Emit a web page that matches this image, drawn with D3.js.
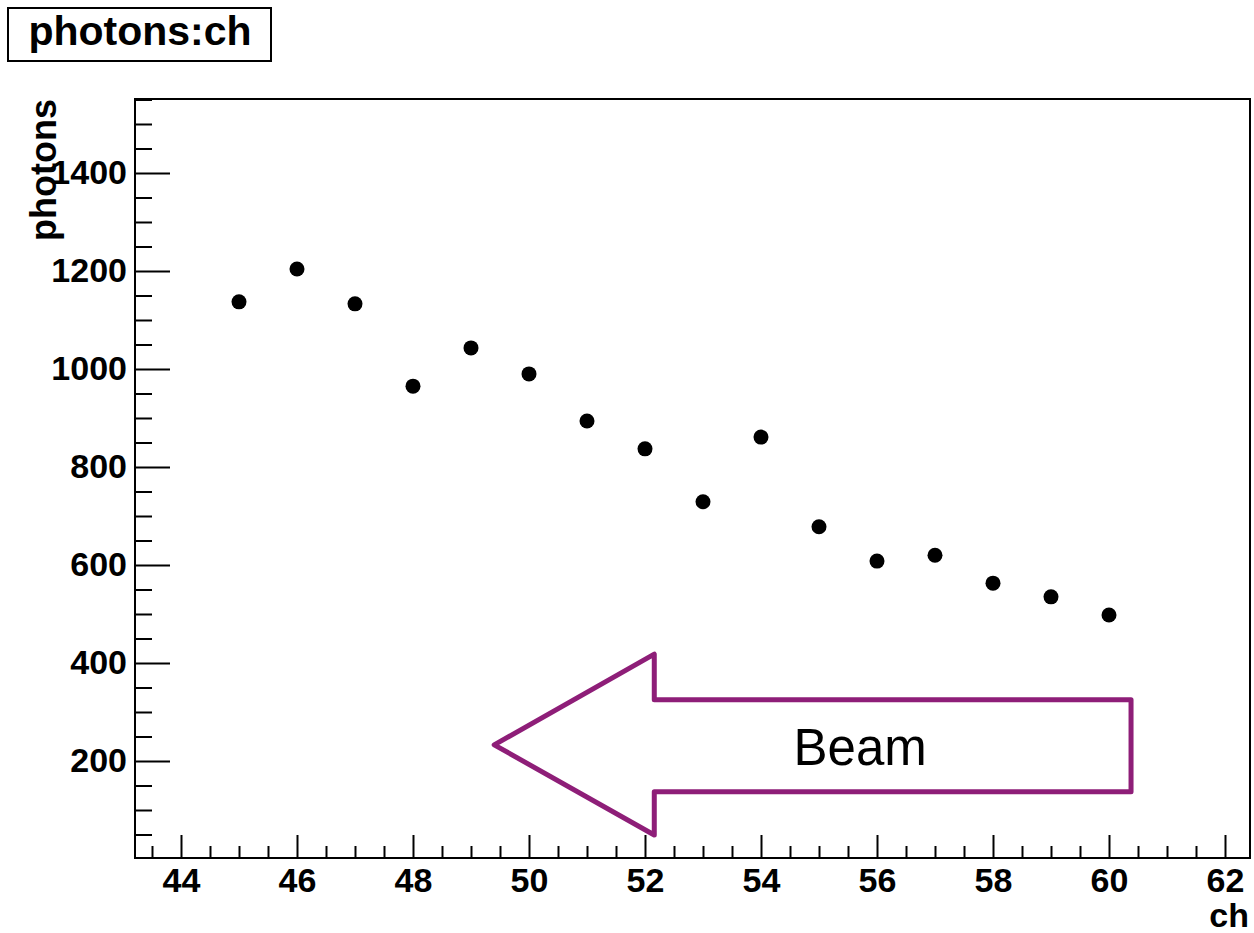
<!DOCTYPE html>
<html>
<head>
  <meta charset="utf-8" />
  <style>
    body { margin: 0; background: #fff; }
    text { font-family: "Liberation Sans", Arial, sans-serif; }
    .axis text { font-weight: bold; font-size: 34px; fill: #000; }
    .axis line { stroke: #000; stroke-width: 2px; }
    .axis path { display: none; }
  </style>
</head>
<body>
  <svg id="container" width="1254" height="933"></svg>
  <script src="https://cdn.jsdelivr.net/npm/d3@7/dist/d3.min.js"></script>
<script>
// channel number vs photon count
var ch = [45, 46, 47, 48, 49, 50, 51, 52, 53, 54, 55, 56, 57, 58, 59, 60];
var photons = [1137, 1204, 1133, 965, 1043, 990, 894, 837, 729, 861, 678, 608, 620, 563, 535, 498];

var xTicks = [44, 46, 48, 50, 52, 54, 56, 58, 60, 62];
var yTicks = [200, 400, 600, 800, 1000, 1200, 1400];

// beam direction arrow, outline in data units (tip first)
var arrowX = [49.4, 52.16, 52.16, 60.38, 60.38, 52.16, 52.16];
var arrowY = [233, 418, 325, 325, 137, 137, 49];
var beamLabel = { x: 55.71, y: 192, text: 'Beam' };

var frame = { left: 135, right: 1250, top: 99, bottom: 858 };

var svg = d3.select('#container');

var x = d3.scaleLinear().domain([43.207, 62.431]).range([frame.left, frame.right]);
var y = d3.scaleLinear().domain([2.04, 1551]).range([frame.bottom, frame.top]);

// title box
svg.append('rect')
  .attr('x', 8).attr('y', 8).attr('width', 263).attr('height', 53)
  .attr('fill', '#fff').attr('stroke', '#000').attr('stroke-width', 2);
svg.append('text')
  .attr('x', 140).attr('y', 45)
  .attr('text-anchor', 'middle')
  .attr('font-weight', 'bold').attr('font-size', 41)
  .text('photons:ch');

// minor ticks
var xMinor = d3.range(43.5, 62.01, 0.5).filter(function (d) { return d % 2 !== 0; });
var yMinor = d3.range(50, 1551, 50).filter(function (d) { return d % 200 !== 0; });

svg.append('g').attr('class', 'axis')
  .attr('transform', 'translate(0,' + frame.bottom + ')')
  .call(d3.axisBottom(x).tickValues(xMinor).tickFormat('').tickSizeInner(-12).tickSizeOuter(0));
svg.append('g').attr('class', 'axis')
  .attr('transform', 'translate(' + frame.left + ',0)')
  .call(d3.axisLeft(y).tickValues(yMinor).tickFormat('').tickSizeInner(-17).tickSizeOuter(0));

// major ticks + labels
svg.append('g').attr('class', 'axis')
  .attr('transform', 'translate(0,' + frame.bottom + ')')
  .call(d3.axisBottom(x).tickValues(xTicks).tickFormat(d3.format('d')).tickSizeInner(-23).tickSizeOuter(0).tickPadding(10));
svg.append('g').attr('class', 'axis')
  .attr('transform', 'translate(' + frame.left + ',0)')
  .call(d3.axisLeft(y).tickValues(yTicks).tickFormat(d3.format('d')).tickSizeInner(-35).tickSizeOuter(0).tickPadding(8));

// frame
svg.append('rect')
  .attr('x', frame.left).attr('y', frame.top)
  .attr('width', frame.right - frame.left).attr('height', frame.bottom - frame.top)
  .attr('fill', 'none').attr('stroke', '#000').attr('stroke-width', 2);

// axis titles
svg.append('text')
  .attr('transform', 'translate(56,' + frame.top + ') rotate(-90)')
  .attr('text-anchor', 'end')
  .attr('font-weight', 'bold').attr('font-size', 36)
  .text('photons');
svg.append('text')
  .attr('x', 1249).attr('y', 927)
  .attr('text-anchor', 'end')
  .attr('font-weight', 'bold').attr('font-size', 34)
  .text('ch');

// points
svg.append('g').selectAll('circle')
  .data(ch)
  .enter().append('circle')
    .attr('cx', function (d) { return x(d); })
    .attr('cy', function (d, i) { return y(photons[i]); })
    .attr('r', 7.5)
    .attr('fill', '#000');

// arrow annotation
var arrowLine = d3.line()
  .x(function (d) { return x(d[0]); })
  .y(function (d) { return y(d[1]); });
svg.append('path')
  .datum(d3.zip(arrowX, arrowY))
  .attr('d', function (d) { return arrowLine(d) + 'Z'; })
  .attr('fill', 'none')
  .attr('stroke', '#8e1e78')
  .attr('stroke-width', 5)
  .attr('stroke-linejoin', 'round');

svg.append('text')
  .attr('x', x(beamLabel.x)).attr('y', y(beamLabel.y))
  .attr('text-anchor', 'middle')
  .attr('font-size', 51)
  .text(beamLabel.text);
</script>
</body>
</html>
